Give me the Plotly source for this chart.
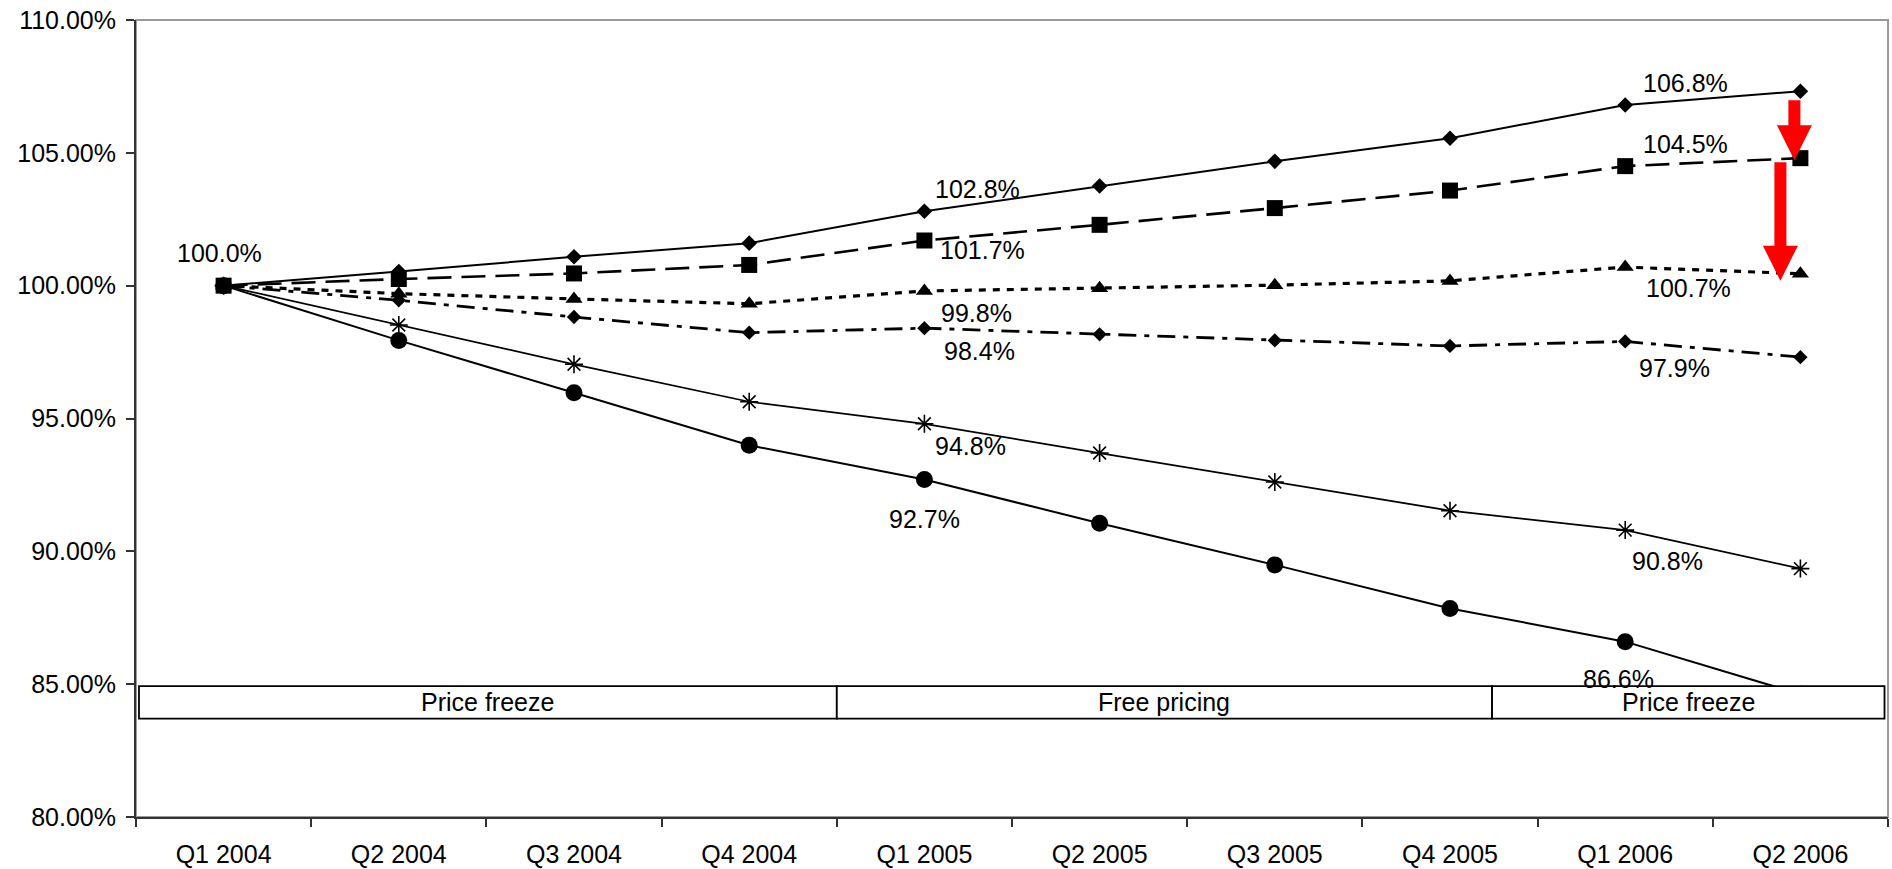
import plotly.graph_objects as go

# Quarterly index values (Q1 2004 = 100%)
quarters = ["Q1 2004", "Q2 2004", "Q3 2004", "Q4 2004", "Q1 2005",
            "Q2 2005", "Q3 2005", "Q4 2005", "Q1 2006", "Q2 2006"]
series_a = [100.0, 100.53, 101.09, 101.6, 102.8, 103.75, 104.68, 105.55, 106.8, 107.32]
series_b = [100.0, 100.25, 100.46, 100.78, 101.7, 102.29, 102.92, 103.58, 104.5, 104.8]
series_c = [100.0, 99.7, 99.5, 99.32, 99.8, 99.9, 100.02, 100.18, 100.7, 100.45]
series_d = [100.0, 99.45, 98.82, 98.23, 98.4, 98.17, 97.94, 97.73, 97.9, 97.31]
series_e = [100.0, 98.52, 97.04, 95.63, 94.8, 93.7, 92.61, 91.53, 90.8, 89.35]
series_f = [100.0, 97.94, 95.97, 93.99, 92.7, 91.06, 89.49, 87.85, 86.6, 84.62]

period_labels = ["Price freeze", "Free pricing", "Price freeze"]

W, H = 1892, 869
M_L, M_R, M_T, M_B = 136, 4, 20, 52
Y_MIN, Y_MAX = 80, 110
FONT = "Liberation Sans, Arial, Helvetica, sans-serif"
FS = 25
px_per_unit = (H - M_T - M_B) / (Y_MAX - Y_MIN)

styles = [
    dict(y=series_a, dash="solid", lw=2.0, sym="diamond", ms=12),
    dict(y=series_b, dash="24px,10px", lw=2.6, sym="square", ms=16),
    dict(y=series_c, dash="7px,7px", lw=3.2, sym="triangle-up", ms=15),
    dict(y=series_d, dash="18px,8px,5px,8px", lw=2.8, sym="diamond", ms=11),
    dict(y=series_e, dash="solid", lw=1.7, sym="asterisk-open", ms=15),
    dict(y=series_f, dash="solid", lw=2.0, sym="circle", ms=17),
]

fig = go.Figure()
for i, s in enumerate(styles):
    fig.add_trace(go.Scatter(
        x=quarters, y=s["y"], mode="lines+markers", name=f"Series {i + 1}",
        line=dict(color="black", width=s["lw"], dash=s["dash"]),
        marker=dict(symbol=s["sym"], size=s["ms"], color="black",
                    line=dict(color="black", width=1.6 if s["sym"] == "asterisk-open" else 0)),
        showlegend=False, hoverinfo="skip",
    ))

# Value labels: (series index, point index, x shift px, y shift px)
label_spots = [
    (0, 0, -4, 33),
    (0, 4, 53, 22), (0, 8, 60, 22),
    (1, 4, 58, -9), (1, 8, 60, 22),
    (2, 4, 52, -22), (2, 8, 63, -21),
    (3, 4, 55, -23), (3, 8, 49, -27),
    (4, 4, 46, -22), (4, 8, 42, -31),
    (5, 4, 0, -39), (5, 8, -7, -37),
]
annotations = []
for si, pi, dx, dy in label_spots:
    v = styles[si]["y"][pi]
    annotations.append(dict(
        x=pi, y=v, xref="x", yref="y", text=f"{v:.1f}%", showarrow=False,
        xshift=dx, yshift=dy, font=dict(family=FONT, size=FS, color="black"),
        xanchor="center", yanchor="middle",
    ))

shapes = [
    # plot-area frame
    dict(type="rect", xref="paper", yref="paper", x0=0, x1=1, y0=0, y1=1,
         line=dict(color="#9a9a9a", width=2), layer="below"),
]

# Period bands along the bottom of the chart
edges = [-0.483, 3.5, 7.24, 9.48]
band_lo, band_hi = 83.7, 84.93
for k, lab in enumerate(period_labels):
    shapes.append(dict(type="rect", xref="x", yref="y", x0=edges[k], x1=edges[k + 1],
                       y0=band_lo, y1=band_hi, fillcolor="white",
                       line=dict(color="black", width=1.8), layer="above"))
    annotations.append(dict(x=(edges[k] + edges[k + 1]) / 2, y=(band_lo + band_hi) / 2,
                            xref="x", yref="y", text=lab, showarrow=False,
                            font=dict(family=FONT, size=FS, color="black"),
                            xanchor="center", yanchor="middle"))

# Red gap arrows at the last quarter
last = len(quarters) - 1
gap_arrows = [
    # (upper value, lower value, x offset px, start gap px, tip gap px)
    (series_a[-1], series_b[-1], -6, 9, 2),
    (series_b[-1], series_c[-1], -20, 4, 7),
]
shaft_half, head_half, head_len = 6, 17.5, 35
for up, lo, xo, g0, g1 in gap_arrows:
    top = up - g0 / px_per_unit
    tip = lo - g1 / px_per_unit
    neck = tip + head_len / px_per_unit
    path = (f"M {xo - shaft_half},{top} L {xo + shaft_half},{top} "
            f"L {xo + shaft_half},{neck} L {xo + head_half},{neck} L {xo},{tip} "
            f"L {xo - head_half},{neck} L {xo - shaft_half},{neck} Z")
    shapes.append(dict(type="path", xref="x", yref="y", xsizemode="pixel", xanchor=last,
                       path=path, fillcolor="#ff0000", line=dict(width=0), layer="above"))

fig.update_layout(
    width=W, height=H,
    margin=dict(l=M_L, r=M_R, t=M_T, b=M_B, pad=0),
    paper_bgcolor="white", plot_bgcolor="white",
    font=dict(family=FONT, size=FS, color="black"),
    shapes=shapes, annotations=annotations,
    xaxis=dict(
        type="category", categoryorder="array", categoryarray=quarters,
        range=[-0.5, 9.5], tickson="boundaries", ticks="outside", ticklen=8,
        tickwidth=1.5, tickcolor="#333333", showline=True, linecolor="#333333",
        linewidth=2, showgrid=False, zeroline=False, ticklabelstandoff=14,
        automargin=False,
        tickfont=dict(family=FONT, size=FS, color="black"),
    ),
    yaxis=dict(
        range=[Y_MIN, Y_MAX], tick0=80, dtick=5, tickformat=".2f", ticksuffix="%",
        ticks="outside", ticklen=8, tickwidth=1.5, tickcolor="#333333",
        showline=True, linecolor="#333333", linewidth=2, showgrid=False,
        zeroline=False, ticklabelstandoff=5, automargin=False,
        tickfont=dict(family=FONT, size=FS, color="black"),
    ),
)

fig.write_html("out.html")
